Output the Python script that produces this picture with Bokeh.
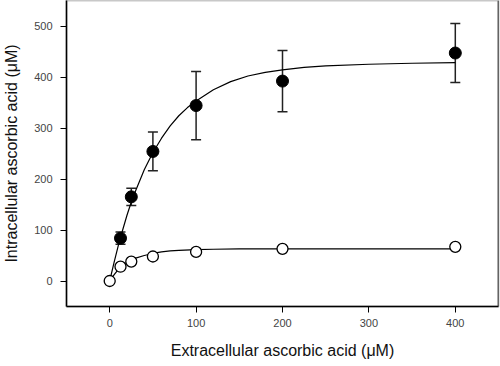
from bokeh.plotting import figure
from bokeh.models import ColumnDataSource, Whisker, TeeHead, Span, Range1d, FixedTicker
from bokeh.embed import file_html
from bokeh.resources import INLINE

# data
conc = [12.5, 25, 50, 100, 200, 400]
filled_y = [84, 165, 254, 344, 392, 447]
filled_err = [12, 17, 38, 67, 60, 58]

open_x = [0, 12.5, 25, 50, 100, 200, 400]
open_y = [0, 28, 38, 48, 57, 63, 67]

fit_filled_x = [0, 5, 10, 15, 20, 25, 30, 40, 50, 60, 70, 80, 90, 100, 120, 140, 160, 180, 200, 225, 250, 300, 350, 400]
fit_filled_y = [0, 36, 70, 100, 129, 155, 177, 218, 252, 280, 304, 324, 340, 353, 375, 391, 402, 409, 414, 419, 422, 425, 427, 428]

fit_open_x = [0, 5, 10, 15, 20, 25, 30, 40, 50, 60, 70, 80, 100, 120, 150, 200, 300, 400]
fit_open_y = [0, 12, 23, 31, 37, 41, 45, 50, 54, 57, 59, 60, 61.5, 62.3, 62.8, 63, 63, 63]

x_ticks = [0, 100, 200, 300, 400]
y_ticks = [0, 100, 200, 300, 400, 500]
x_lo, x_hi = -50, 450
y_lo, y_hi = -50, 550

FONT = "Liberation Sans"

p = figure(frame_width=432, frame_height=306, output_backend="svg", toolbar_location=None,
           x_range=Range1d(x_lo, x_hi), y_range=Range1d(y_lo, y_hi),
           min_border_left=57, min_border_right=3, min_border_top=0, min_border_bottom=52)
p.xgrid.visible = False
p.ygrid.visible = False
p.outline_line_color = "#c8c8c8"
p.outline_line_width = 2
p.background_fill_color = "white"
p.border_fill_color = "white"

for ax in (p.xaxis[0], p.yaxis[0]):
    ax.axis_line_color = "black"
    ax.axis_line_width = 1.5
    ax.major_tick_line_color = "black"
    ax.major_tick_line_width = 1
    ax.major_tick_out = 6
    ax.major_tick_in = 0
    ax.minor_tick_line_color = None
    ax.major_label_text_font = FONT
    ax.major_label_text_font_size = "11px"
    ax.major_label_text_color = "#444444"
    ax.axis_label_text_font = FONT
    ax.axis_label_text_font_size = "16px"
    ax.axis_label_text_font_style = "normal"
    ax.axis_label_text_color = "#111111"

p.xaxis[0].major_label_standoff = 6
p.yaxis[0].major_label_standoff = 8
p.xaxis[0].ticker = FixedTicker(ticks=x_ticks)
p.yaxis[0].ticker = FixedTicker(ticks=y_ticks)
p.xaxis[0].axis_label = "Extracellular ascorbic acid (\u03bcM)"
p.yaxis[0].axis_label = "Intracellular ascorbic acid (\u03bcM)"
p.xaxis[0].axis_label_standoff = 12
p.yaxis[0].axis_label_standoff = 11

p.add_layout(Span(location=x_hi, dimension="height", line_color="black", line_width=1.5))

# fitted curves
p.line(fit_filled_x, fit_filled_y, line_color="black", line_width=1.2)
p.line(fit_open_x, fit_open_y, line_color="black", line_width=1.2)

# error bars
src = ColumnDataSource(dict(x=conc, y=filled_y,
                            upper=[a + b for a, b in zip(filled_y, filled_err)],
                            lower=[a - b for a, b in zip(filled_y, filled_err)]))
w = Whisker(source=src, base="x", upper="upper", lower="lower", line_color="#222222", line_width=1.5,
            upper_head=TeeHead(size=10, line_color="#222222", line_width=1.5),
            lower_head=TeeHead(size=10, line_color="#222222", line_width=1.5))
p.add_layout(w)

p.scatter(x="x", y="y", source=src, size=12, fill_color="black", line_color="black")
p.scatter(open_x, open_y, size=11, fill_color="white", line_color="black", line_width=1.3)

open("out.html", "w").write(file_html(p, INLINE))
